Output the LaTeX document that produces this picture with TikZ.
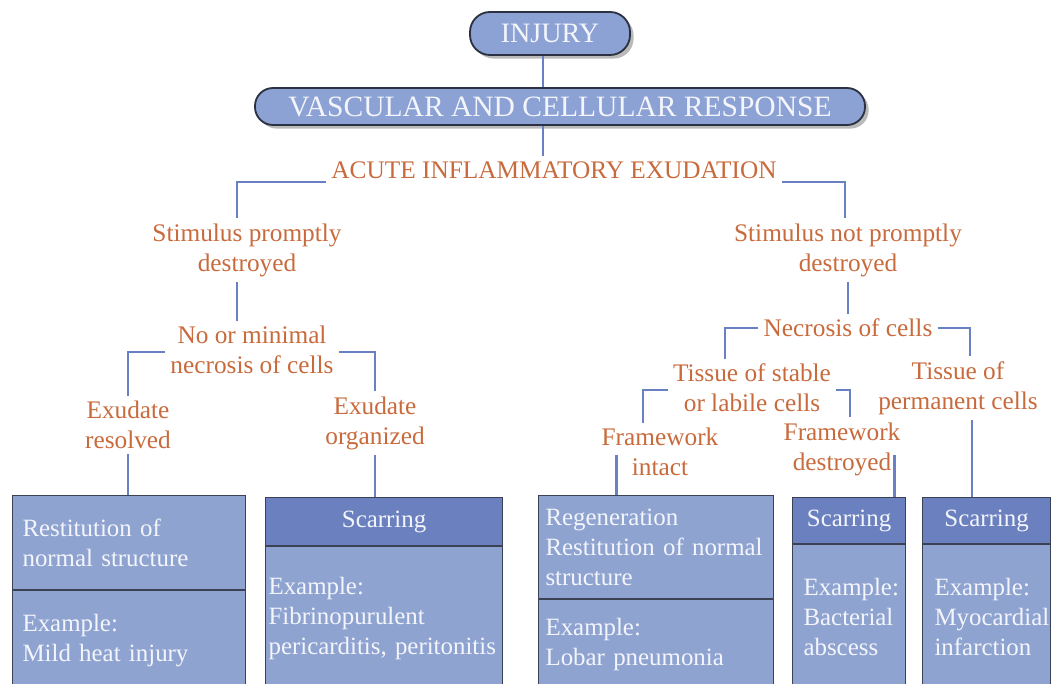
\documentclass[tikz,border=0pt]{standalone}
\usepackage{fontspec}
\setmainfont{Liberation Serif}
\usetikzlibrary{shadows}
\definecolor{linkblue}{HTML}{6A80C4}
\definecolor{labelorange}{HTML}{C86A3C}
\definecolor{boxfill}{HTML}{8FA3D1}
\definecolor{headfill}{HTML}{6B80BF}
\definecolor{boxline}{HTML}{3B4256}
\definecolor{pillfill}{HTML}{8DA2D4}
\definecolor{pillline}{HTML}{2B3140}
\definecolor{boxtext}{HTML}{F3F5FB}
\hyphenpenalty=10000

\begin{document}
\begin{tikzpicture}[x=0.25mm, y=-0.25mm, line width=2pt, draw=linkblue]
	\tikzstyle{pill}=[draw=pillline, line width=1.3pt, fill=pillfill, text=boxtext, inner sep=0pt, drop shadow={shadow xshift=0.9mm, shadow yshift=-0.9mm, fill=black!45, opacity=0.6}]
	\tikzstyle{stage}=[text=labelorange, align=center, inner sep=1mm, font=\fontsize{18}{21.3}\selectfont]
	\tikzstyle{cell}=[draw=boxline, line width=0.8pt, fill=boxfill, anchor=north west, inner xsep=2.5mm, inner ysep=0pt, align=left, text=boxtext, font=\fontsize{17.7}{21.3}\selectfont]
	\tikzstyle{cellhead}=[cell, fill=headfill, align=center]

	\useasboundingbox (0,0) rectangle (1056,684);

	% top of the chart
	\node[pill, rounded corners=5mm, minimum width=40mm, minimum height=10.75mm, font=\fontsize{20}{24}\selectfont] (injury) at (550,33.5) {INJURY};
	\node[pill, rounded corners=4.5mm, minimum width=152.5mm, minimum height=9.25mm, font=\fontsize{21}{24}\selectfont] (vasc) at (560,106.5) {VASCULAR AND CELLULAR RESPONSE};
	\node[stage] (acute) at (554,170) {ACUTE INFLAMMATORY EXUDATION};

	% left branch
	\node[stage] (spd) at (247,250) {Stimulus promptly\\destroyed};
	\node[stage] (nomin) at (252,350) {No or minimal\\necrosis of cells};
	\node[stage] (exres) at (128,425) {Exudate\\resolved};
	\node[stage] (exorg) at (375,423) {Exudate\\organized};

	% right branch
	\node[stage] (snpd) at (848,250) {Stimulus not promptly\\destroyed};
	\node[stage] (necr) at (848,328) {Necrosis of cells};
	\node[stage] (stab) at (752,388) {Tissue of stable\\or labile cells};
	\node[stage] (perm) at (958,388) {Tissue of\\permanent cells};
	\node[stage] (fwint) at (660,452) {Framework\\intact};
	\node[stage] (fwdes) at (842,449) {Framework\\destroyed};

	% outcome boxes
	\node[cell, minimum width=58.25mm, minimum height=23.5mm, text width=53.25mm] (b1top) at (12,495) {Restitution of\\normal structure};
	\node[cell, minimum width=58.25mm, minimum height=24.75mm, text width=53.25mm] (b1bot) at (b1top.south west) {Example:\\Mild heat injury};

	\node[cellhead, minimum width=59.25mm, minimum height=12mm, text width=54.25mm] (b2top) at (265,497) {Scarring};
	\node[cell, inner xsep=0.75mm, minimum width=59.25mm, minimum height=35.75mm, text width=57.75mm] (b2bot) at (b2top.south west) {Example:\\Fibrinopurulent\\pericarditis, peritonitis};

	\node[cell, inner xsep=1.75mm, minimum width=58.75mm, minimum height=25.75mm, text width=55.25mm] (b3top) at (538,495) {Regeneration\\Restitution of normal\\structure};
	\node[cell, inner xsep=1.75mm, minimum width=58.75mm, minimum height=22.5mm, text width=55.25mm] (b3bot) at (b3top.south west) {Example:\\Lobar pneumonia};

	\node[cellhead, inner xsep=1mm, minimum width=28.25mm, minimum height=11.5mm, text width=26.25mm] (b4top) at (792,497) {Scarring};
	\node[cell, inner xsep=2.75mm, minimum width=28.25mm, minimum height=36.25mm, text width=22.75mm] (b4bot) at (b4top.south west) {Example:\\Bacterial\\abscess};

	\node[cellhead, inner xsep=1mm, minimum width=32mm, minimum height=11.5mm, text width=30mm] (b5top) at (922,497) {Scarring};
	\node[cell, inner xsep=3mm, minimum width=32mm, minimum height=36.25mm, text width=26mm] (b5bot) at (b5top.south west) {Example:\\Myocardial\\infarction};

	% connectors
	\draw ([xshift=-1.75mm]injury.south) -- ([xshift=-1.75mm]injury.south |- vasc.north);
	\draw ([xshift=-1.75mm]injury.south |- vasc.south) -- ([xshift=-1.75mm]injury.south |- acute.north);
	\draw ([yshift=-3mm]acute.west) -| ([xshift=-2.5mm]spd.north);
	\draw ([yshift=-3mm]acute.east) -| ([xshift=-0.75mm]snpd.north);

	\draw ([xshift=-2.5mm]spd.south) -- ([xshift=-2.5mm]spd.south |- nomin.north);
	\draw ([yshift=-0.5mm]nomin.west) -| (exres.north);
	\draw ([yshift=-0.5mm]nomin.east) -| (exorg.north);
	\draw (exres.south) -- (exres.south |- b1top.north);
	\draw (exorg.south) -- (exorg.south |- b2top.north);

	\draw (snpd.south) -- (necr.north);
	\draw (necr.west) -| ([xshift=-6.75mm]stab.north);
	\draw (necr.east) -| ([xshift=3mm]perm.north);
	\draw ([yshift=-0.5mm]stab.west) -| ([xshift=-4.25mm]fwint.north);
	\draw ([yshift=-0.5mm]stab.east) -| ([xshift=2mm]fwdes.north);
	\draw ([xshift=5mm, yshift=-0.75mm]fwint.west) -- ([xshift=5mm]fwint.west |- b3top.north);
	\draw ([xshift=-2.75mm, yshift=-1.5mm]fwdes.east) -- ([xshift=-2.75mm]fwdes.east |- b4top.north);
	\draw ([xshift=3.5mm]perm.south) -- ([xshift=3.5mm]perm.south |- b5top.north);
\end{tikzpicture}
\end{document}
